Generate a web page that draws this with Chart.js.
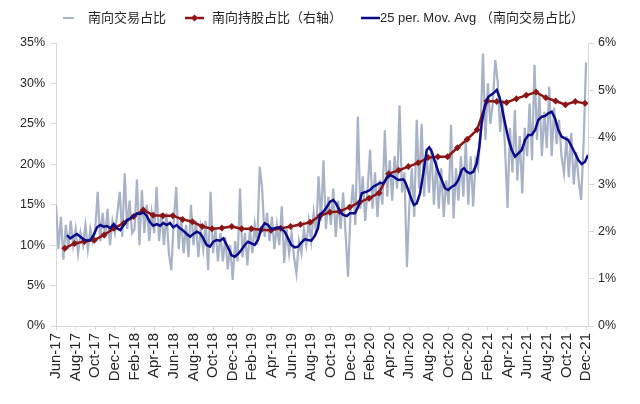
<!DOCTYPE html>
<html>
<head>
<meta charset="utf-8">
<script src="https://cdn.jsdelivr.net/npm/chart.js@4.4.0/dist/chart.umd.min.js"></script>
<style>
  html, body { margin: 0; padding: 0; background: #fff; }
</style>
</head>
<body>
<canvas id="myChart" width="640" height="404"></canvas>
<script>
// x axis: months counted from Jun-17 (0) to Dec-21 (54)
var tickLabels = ['Jun-17','Aug-17','Oct-17','Dec-17','Feb-18','Apr-18','Jun-18','Aug-18','Oct-18','Dec-18',
    'Feb-19','Apr-19','Jun-19','Aug-19','Oct-19','Dec-19','Feb-20','Apr-20','Jun-20','Aug-20',
    'Oct-20','Dec-20','Feb-21','Apr-21','Jun-21','Aug-21','Oct-21','Dec-21'];

var legendLabels = ['南向交易占比', '南向持股占比（右轴）', '25 per. Mov. Avg （南向交易占比）'];

// 南向交易占比 (%), four readings per month from Jun-17
var tradeShare = [
    15.0, 9.5, 13.5, 8.2,   12.5, 9.5, 13.0, 10.0,  12.0, 9.0, 11.5, 10.0,  12.5, 9.5, 12.0, 10.5,
    12.0, 16.6, 10.5, 14.0, 11.0, 14.5, 10.0, 13.0, 11.5, 14.0, 16.6, 11.0, 18.9, 12.0, 15.5, 11.5,
    12.0, 18.1, 10.0, 16.8, 11.5, 15.0, 10.5, 14.0, 11.5, 17.2, 10.5, 14.0, 10.0, 14.0, 9.0, 6.9,
    13.0, 17.2, 9.5, 13.5,  9.0, 12.5, 8.5, 15.0,   10.0, 13.0, 8.5, 12.0,  9.5, 13.0, 6.9, 16.6,
    9.0, 12.0, 8.0, 11.5,   8.0, 11.0, 7.0, 10.0,   5.7, 10.5, 8.0, 17.0,   8.5, 11.5, 7.5, 12.0,
    9.0, 12.5, 10.0, 19.7,  17.0, 11.0, 14.0, 10.5, 13.5, 9.5, 12.5, 10.0, 14.8, 7.8, 12.0, 9.0,
    11.5, 8.5, 6.5, 10.5,   9.0, 12.0, 10.0, 13.0,  10.5, 14.0, 11.5, 18.5, 13.0, 20.5, 12.0, 16.0,
    12.5, 17.0, 11.0, 15.5, 12.0, 16.5, 11.5, 6.1,  14.0, 17.5, 12.5, 25.9, 14.5, 18.5, 13.0, 17.0,
    21.8, 14.5, 19.0, 13.5, 18.0, 15.0, 24.2, 16.0, 20.5, 15.5, 21.0, 17.0, 27.3, 16.5, 19.0, 7.3,
    15.0, 19.5, 13.5, 25.5, 17.0, 25.0, 16.0, 21.5, 16.5, 22.0, 15.0, 20.5, 14.5, 19.5, 13.5, 18.0,
    15.0, 24.9, 13.3, 19.5, 15.5, 21.0, 16.0, 23.0, 15.0, 21.0, 14.8, 20.5, 19.5, 24.0, 33.7, 23.0,
    30.0, 25.0, 27.5, 32.9, 30.2, 24.0, 28.0, 22.0, 14.6, 24.5, 19.0, 26.7, 18.0, 23.5, 16.4, 24.5,
    21.0, 27.5, 20.5, 32.3, 23.0, 28.8, 21.0, 26.5, 22.0, 29.6, 21.0, 27.0, 22.5, 25.5, 21.0, 18.9,
    23.5, 18.4, 23.9, 17.5, 21.5, 18.0, 15.6, 22.5,
    32.6
];

// 南向持股占比 (%), month ends Jun-17 .. Nov-21
var holdShare = [
    1.65, 1.75, 1.79, 1.82, 1.93, 2.07, 2.18, 2.32, 2.46, 2.35,
    2.34, 2.34, 2.26, 2.21, 2.11, 2.06, 2.08, 2.11, 2.06, 2.06,
    2.04, 2.03, 2.07, 2.11, 2.15, 2.20, 2.34, 2.41, 2.43, 2.52,
    2.62, 2.71, 2.82, 3.23, 3.30, 3.38, 3.46, 3.57, 3.59, 3.59,
    3.78, 3.96, 4.16, 4.77, 4.76, 4.74, 4.82, 4.89, 4.96, 4.84,
    4.77, 4.69, 4.76, 4.72
];

// 25 per. Mov. Avg
var maMonths = [
    1.12, 1.46, 1.80, 2.14, 2.48, 2.82, 3.16, 3.49, 3.84, 4.18, 4.51, 4.86, 5.20, 5.53, 5.88, 6.21,
    6.55, 6.90, 7.23, 7.57, 7.92, 8.25, 8.56, 8.89, 9.24, 9.58, 9.91, 10.26, 10.60, 10.93, 11.28, 11.61,
    11.95, 12.30, 12.63, 12.97, 13.32, 13.65, 13.99, 14.34, 14.67, 15.01, 15.35, 15.69, 16.03, 16.37, 16.71, 17.05,
    17.39, 17.73, 17.86, 18.21, 18.54, 18.88, 19.23, 19.56, 19.90, 20.24, 20.58, 20.92, 21.26, 21.60, 21.94, 22.28,
    22.62, 22.95, 23.30, 23.64, 23.97, 24.32, 24.66, 24.99, 25.34, 25.67, 26.01, 26.36, 26.69, 26.90, 27.41, 27.92,
    28.25, 28.53, 28.94, 29.27, 29.62, 29.95, 30.46, 30.80, 31.15, 31.66, 31.99, 32.33, 32.67, 33.01, 33.35, 33.69,
    34.03, 34.37, 34.88, 35.39, 35.56, 35.89, 36.24, 36.47, 36.75, 37.09, 37.42, 37.77, 38.03, 38.28, 38.61, 38.95,
    39.30, 39.63, 39.97, 40.32, 40.65, 40.99, 41.33, 41.57, 41.84, 42.18, 42.52, 42.86, 43.13, 43.37, 43.71, 44.05,
    44.55, 44.90, 45.17, 45.41, 45.75, 46.08, 46.43, 46.77, 47.11, 47.45, 47.78, 48.12, 48.47, 48.81, 49.14, 49.49,
    49.82, 50.16, 50.50, 50.84, 51.18, 51.52, 51.86, 52.19, 52.54, 52.88, 53.21, 53.56, 53.90, 54.20
];
var maValues = [
    11.25, 10.85, 11.13, 11.38, 11.04, 10.72, 10.55, 10.64, 11.25, 12.20, 12.49, 12.28, 12.37, 12.08, 12.61, 12.08,
    11.87, 12.49, 13.11, 13.32, 13.60, 13.94, 13.85, 14.06, 13.65, 12.82, 12.40, 12.60, 12.40, 12.74, 12.49, 12.74,
    12.20, 12.49, 12.08, 11.79, 11.38, 11.04, 11.38, 11.66, 11.46, 10.84, 10.02, 9.81, 10.43, 10.64, 10.55, 10.84,
    10.02, 9.19, 8.78, 8.57, 8.90, 9.40, 10.02, 10.43, 10.23, 10.02, 10.64, 12.08, 12.70, 12.49, 11.96, 12.08,
    12.20, 12.08, 11.66, 10.84, 10.02, 9.73, 9.81, 10.30, 10.72, 10.64, 10.55, 11.13, 12.08, 13.73, 14.39, 15.37,
    15.58, 15.17, 14.14, 13.73, 13.60, 13.94, 13.94, 14.76, 16.41, 16.61, 16.82, 17.23, 17.44, 17.72, 17.64, 18.26,
    18.67, 18.47, 18.05, 18.14, 17.85, 16.82, 15.58, 14.96, 15.17, 16.41, 18.88, 21.77, 22.10, 21.56, 20.32, 19.08,
    18.05, 17.03, 16.82, 17.23, 17.44, 18.05, 19.29, 19.50, 19.08, 18.88, 19.08, 20.12, 22.17, 25.07, 27.33, 28.36,
    28.78, 29.19, 28.36, 27.12, 25.07, 23.21, 21.77, 20.94, 21.36, 21.77, 23.00, 23.62, 23.62, 24.24, 25.48, 25.89,
    25.97, 26.30, 26.50, 25.69, 24.24, 23.41, 23.21, 23.00, 22.17, 21.36, 20.53, 20.03, 20.32, 21.15
];

var grayColor = '#a9b3c7';
var redColor = '#8c1616';
var navyColor = '#0b0b8a';
var fontFamily = '"Liberation Sans", "Noto Sans CJK SC", Arial, sans-serif';

var tradeData = tradeShare.map(function(v, i) { return {x: i / 4, y: v}; });
var holdData = holdShare.map(function(v, i) { return {x: i + 0.9, y: v}; });
var maData = maValues.map(function(v, i) { return {x: maMonths[i], y: v}; });

// legend drawn at the top like the original
var topLegend = {
    id: 'topLegend',
    afterDraw: function(chart) {
        var ctx = chart.ctx;
        var y = 18;
        ctx.save();
        ctx.font = '13px ' + fontFamily;
        ctx.textBaseline = 'middle';
        ctx.fillStyle = '#262626';

        ctx.strokeStyle = grayColor;
        ctx.lineWidth = 2;
        ctx.beginPath(); ctx.moveTo(63, y); ctx.lineTo(74, y); ctx.stroke();
        ctx.fillText(legendLabels[0], 88, y);

        ctx.strokeStyle = redColor;
        ctx.lineWidth = 2.5;
        ctx.beginPath(); ctx.moveTo(185, y); ctx.lineTo(204, y); ctx.stroke();
        ctx.fillStyle = redColor;
        ctx.beginPath();
        ctx.moveTo(194.5, y - 3.5); ctx.lineTo(198, y); ctx.lineTo(194.5, y + 3.5); ctx.lineTo(191, y);
        ctx.closePath(); ctx.fill();
        ctx.fillStyle = '#262626';
        ctx.fillText(legendLabels[1], 212, y);

        ctx.strokeStyle = navyColor;
        ctx.lineWidth = 2.5;
        ctx.beginPath(); ctx.moveTo(361, y); ctx.lineTo(380, y); ctx.stroke();
        ctx.fillText(legendLabels[2], 380, y);
        ctx.restore();
    }
};

var axisGrey = '#d9d9d9';

var ctx = document.getElementById('myChart');
var myChart = new Chart(ctx, {
    type: 'line',
    data: {
        datasets: [{
            label: legendLabels[2],
            data: maData,
            borderColor: navyColor,
            borderWidth: 2.5,
            pointRadius: 0,
            tension: 0,
            yAxisID: 'y'
        }, {
            label: legendLabels[1],
            data: holdData,
            borderColor: redColor,
            backgroundColor: redColor,
            borderWidth: 2.5,
            pointStyle: 'rectRot',
            pointRadius: 3.5,
            pointBorderWidth: 0,
            tension: 0,
            yAxisID: 'y1'
        }, {
            label: legendLabels[0],
            data: tradeData,
            borderColor: grayColor,
            borderWidth: 2.2,
            pointRadius: 0,
            tension: 0,
            yAxisID: 'y'
        }]
    },
    options: {
        responsive: false,
        animation: false,
        events: [],
        layout: {padding: {top: 43, left: 0, right: 0, bottom: 0}},
        plugins: {
            legend: {display: false},
            tooltip: {enabled: false}
        },
        scales: {
            x: {
                type: 'linear',
                min: 0,
                max: 54.2,
                afterBuildTicks: function(scale) {
                    scale.ticks = tickLabels.map(function(l, i) { return {value: i * 2}; });
                },
                afterFit: function(scale) { scale.height = 78; },
                ticks: {
                    autoSkip: false,
                    minRotation: 90,
                    maxRotation: 90,
                    padding: 3,
                    color: '#262626',
                    font: {family: fontFamily, size: 15},
                    callback: function(value, index) { return tickLabels[index]; }
                },
                grid: {display: true, drawOnChartArea: false, drawTicks: true, tickLength: 4, color: axisGrey},
                border: {display: true, color: axisGrey}
            },
            y: {
                position: 'left',
                min: 0,
                max: 35,
                afterFit: function(scale) { scale.width = 56; },
                ticks: {
                    stepSize: 5,
                    padding: 5,
                    color: '#262626',
                    font: {family: fontFamily, size: 12.5},
                    callback: function(v) { return v + '%'; }
                },
                grid: {display: true, drawOnChartArea: false, drawTicks: true, tickLength: 6, color: axisGrey},
                border: {display: true, color: axisGrey}
            },
            y1: {
                position: 'right',
                min: 0,
                max: 6,
                afterFit: function(scale) { scale.width = 52; },
                ticks: {
                    stepSize: 1,
                    padding: 4,
                    color: '#262626',
                    font: {family: fontFamily, size: 12.5},
                    callback: function(v) { return v + '%'; }
                },
                grid: {display: true, drawOnChartArea: false, drawTicks: true, tickLength: 6, color: axisGrey},
                border: {display: true, color: axisGrey}
            }
        }
    },
    plugins: [topLegend]
});
</script>
</body>
</html>
